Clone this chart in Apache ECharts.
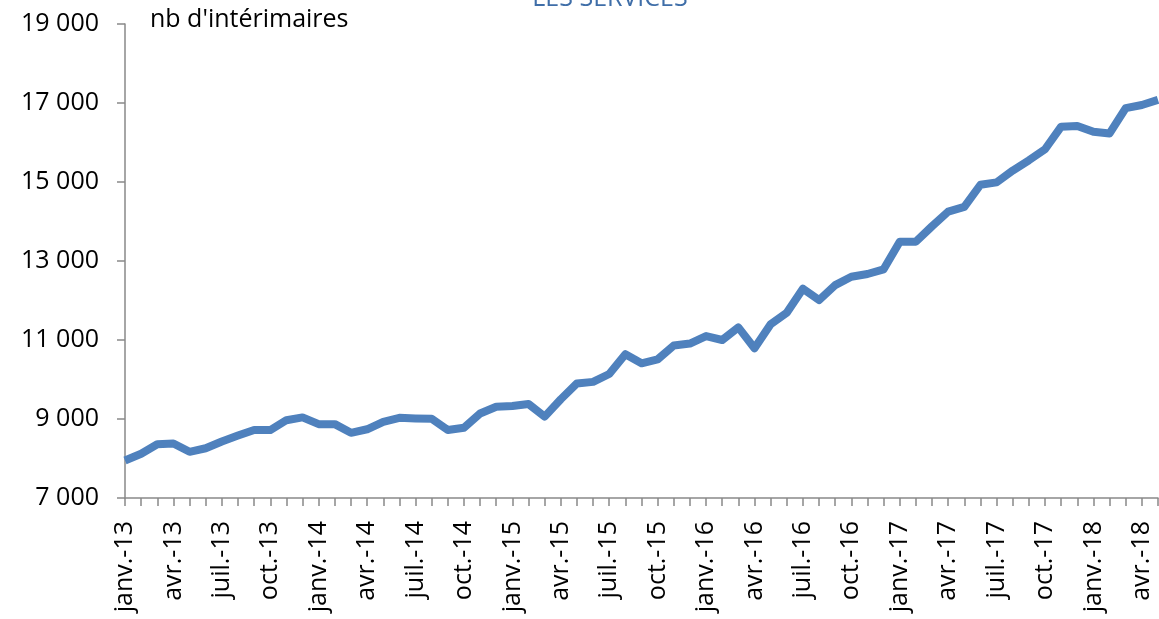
<!DOCTYPE html>
<html>
<head>
<meta charset="utf-8">
<script src="https://cdn.jsdelivr.net/npm/echarts@6/dist/echarts.min.js"></script>
<style>
  html, body { margin: 0; padding: 0; background: #fff; }
  #chart { width: 1159px; height: 619px; }
</style>
</head>
<body>
<div id="chart"></div>
<script>
  // month labels as in the source (French short names)
  const monthNames = ['janv.', 'févr.', 'mars', 'avr.', 'mai', 'juin', 'juil.', 'août', 'sept.', 'oct.', 'nov.', 'déc.']
  const years = ['13', '14', '15', '16', '17', '18']
  const monthCount = 65 // janv.-13 .. mai-18

  const categories = []
  for (let i = 0; i < monthCount; i++) {
    categories.push(monthNames[i % 12] + '-' + years[Math.floor(i / 12)])
  }

  // nb d'intérimaires
  const interimaires = [
    7950, 8120, 8360, 8380, 8170, 8260, 8430, 8580, 8720, 8720, 8970, 9040,
    8870, 8870, 8650, 8740, 8930, 9030, 9015, 9005, 8720, 8780, 9140, 9310,
    9330, 9380, 9060, 9500, 9900, 9940, 10140, 10640, 10410, 10510, 10860, 10910,
    11100, 11000, 11320, 10790, 11400, 11690, 12300, 12010, 12390, 12600, 12670, 12790,
    13490, 13490, 13880, 14250, 14370, 14930, 14990, 15290, 15550, 15830, 16400, 16420,
    16270, 16230, 16870, 16950, 17080
  ]

  const yMin = 7000
  const yMax = 19000
  const yStep = 2000

  const axisGrey = '#898989'
  const font = 'Open Sans'

  function spaced(v) {
    return String(v).replace(/\B(?=(\d{3})+(?!\d))/g, ' ')
  }

  let option = {
    animation: false,
    textStyle: {fontFamily: font},
    graphic: [
      {
        type: 'text', x: 610, y: 11,
        style: {
          text: 'LES SERVICES', fill: '#3f6ea8', font: '25px "Open Sans"',
          align: 'center', verticalAlign: 'bottom'
        }
      },
      {
        type: 'text', left: 150, top: 7,
        style: {text: "nb d'intérimaires", fill: '#000', font: '25px "Open Sans"'}
      }
    ],
    grid: {left: 125, top: 24, right: 1, bottom: 121, containLabel: false},
    xAxis: {
      type: 'category',
      data: categories,
      boundaryGap: false,
      axisLine: {show: true, lineStyle: {color: axisGrey, width: 1.5}},
      axisTick: {show: true, interval: 0, length: 8, lineStyle: {color: axisGrey, width: 1.5}},
      axisLabel: {
        interval: 2, rotate: 90, margin: 23,
        color: '#000', fontSize: 25, fontFamily: font
      },
      splitLine: {show: false}
    },
    yAxis: {
      type: 'value',
      min: yMin, max: yMax, interval: yStep,
      axisLine: {show: true, lineStyle: {color: axisGrey, width: 1.5}},
      axisTick: {show: true, length: 8, lineStyle: {color: axisGrey, width: 1.5}},
      axisLabel: {
        margin: 26, color: '#000', fontSize: 25, fontFamily: font,
        formatter: spaced
      },
      splitLine: {show: false}
    },
    series: [{
      type: 'line',
      data: interimaires,
      showSymbol: false,
      lineStyle: {color: '#4f81bd', width: 8, join: 'round'},
      itemStyle: {color: '#4f81bd'}
    }]
  }

  const myChart = echarts.init(document.getElementById('chart'))
  myChart.setOption(option)
</script>
</body>
</html>
